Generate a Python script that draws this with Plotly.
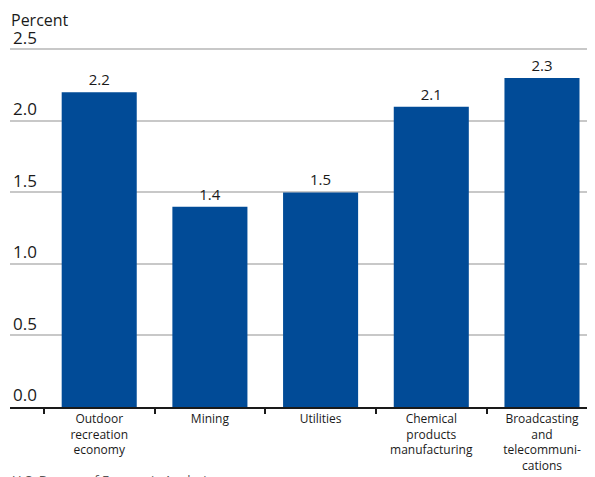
import plotly.graph_objects as go

categories = ["Outdoor<br>recreation<br>economy", "Mining", "Utilities",
              "Chemical<br>products<br>manufacturing",
              "Broadcasting<br>and<br>telecommuni-<br>cations"]
values = [2.2, 1.4, 1.5, 2.1, 2.3]
value_labels = ["2.2", "1.4", "1.5", "2.1", "2.3"]
y_ticks = [0.0, 0.5, 1.0, 1.5, 2.0, 2.5]
y_tick_labels = ["0.0", "0.5", "1.0", "1.5", "2.0", "2.5"]

FONT = "Open Sans"
# the page body adds an 8px offset, so the figure is sized to end at the window edge
W, H = 587, 469
ml, mr, mt, mb = 2, 0, 12, 69.5
PH = H - mt - mb

fig = go.Figure(go.Bar(
    x=list(range(len(categories))), y=values,
    marker=dict(color="#014b97", line=dict(width=0)),
    text=value_labels, textposition="outside",
    textfont=dict(family=FONT, size=15, color="#1a1a1a"),
    cliponaxis=False, width=0.678,
))

fig.update_layout(
    width=W, height=H,
    margin=dict(l=ml, r=mr, t=mt, b=mb, pad=0, autoexpand=False),
    paper_bgcolor="white", plot_bgcolor="white",
    showlegend=False,
    xaxis=dict(
        tickmode="array", tickvals=list(range(len(categories))), ticktext=categories,
        range=[-0.806, 4.479], automargin=False,
        showline=True, linecolor="#1a1a1a", linewidth=1.5,
        ticks="", showgrid=False, zeroline=False,
        tickfont=dict(family=FONT, size=12, color="#1a1a1a"),
    ),
    yaxis=dict(
        range=[0, 2.706], automargin=False,
        tickmode="array", tickvals=y_ticks, ticktext=y_tick_labels,
        ticklabelposition="inside top",
        tickfont=dict(family=FONT, size=17, color="#1a1a1a"),
        showgrid=True, gridcolor="#c8c8c8", gridwidth=1.5,
        zeroline=False, showline=False, ticks="",
    ),
    xaxis2=dict(
        overlaying="x", anchor="y", side="bottom",
        range=[-0.806, 4.479], automargin=False,
        tickmode="array", tickvals=[-0.5, 0.5, 1.5, 2.5, 3.5],
        ticks="outside", ticklen=6, tickwidth=1.5, tickcolor="#1a1a1a",
        showticklabels=False, showgrid=False, zeroline=False, showline=False,
    ),
)

# invisible trace to activate the tick-mark axis
fig.add_trace(go.Scatter(x=[0], y=[0], xaxis="x2", mode="markers",
                         marker=dict(opacity=0), hoverinfo="skip", showlegend=False))

fig.add_annotation(text="Percent", xref="paper", yref="paper",
                   x=0, y=1 + mt / PH, xanchor="left", yanchor="top",
                   borderpad=0,
                   showarrow=False, font=dict(family=FONT, size=16, color="#1a1a1a"))
fig.add_annotation(text="U.S. Bureau of Economic Analysis", xref="paper", yref="paper",
                   x=0, y=-(462 - (H - mb)) / PH, xanchor="left", yanchor="top",
                   showarrow=False, font=dict(family=FONT, size=13, color="#555555"))

fig.write_html("out.html")
